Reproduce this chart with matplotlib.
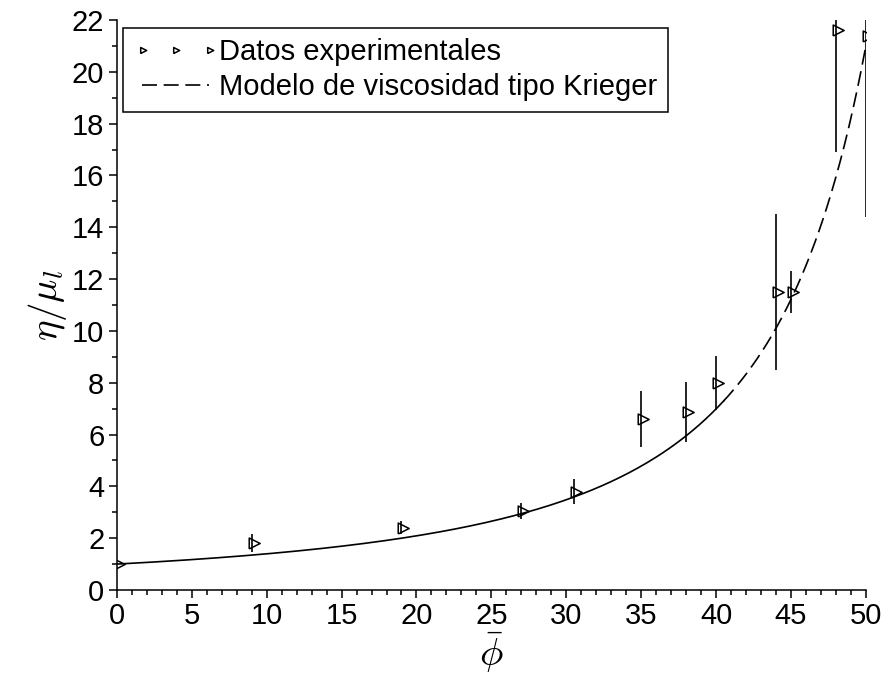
import numpy as np
import matplotlib
matplotlib.use("Agg")
import matplotlib.pyplot as plt
from matplotlib.ticker import MultipleLocator

phi = [0, 9, 19, 27, 30.5, 35, 38, 40, 44, 45, 48, 50]
visc = [1.0, 1.81, 2.4, 3.05, 3.8, 6.6, 6.87, 8.0, 11.5, 11.5, 21.6, 21.4]
err = [0.0, 0.35, 0.25, 0.3, 0.5, 1.08, 1.15, 1.05, 3.0, 0.8, 4.7, 7.0]

# Krieger model parameters (fitted by eye)
phi_max = 63.0
expo = 1.93
phi_split = 40.5

plt.rcParams['font.family'] = ['Liberation Sans', 'DejaVu Sans']
plt.rcParams['mathtext.fontset'] = 'cm'

# right-pointing triangle, anchored near its left side like the original
tri = [(-0.6, -1.0), (1.4, 0.0), (-0.6, 1.0), (-0.6, -1.0)]

fig = plt.figure(figsize=(8.85, 6.87), dpi=100)
ax = fig.add_axes([0.132, 0.1412, 0.8465, 0.8297])

x1 = np.linspace(0, phi_split, 200)
x2 = np.linspace(phi_split, 50, 200)
ax.plot(x1, (1 - x1 / phi_max) ** (-expo), color='black', lw=1.2)
line, = ax.plot(x2, (1 - x2 / phi_max) ** (-expo), color='black', lw=1.2,
                dashes=(9, 4))

ax.errorbar(phi, visc, yerr=err, fmt='none', ecolor='black', elinewidth=1.2,
            capsize=0)
pts, = ax.plot(phi, visc, linestyle='none', marker=tri, markersize=11,
               markerfacecolor='none', markeredgecolor='black', markeredgewidth=1.1)

ax.set_xlim(0, 50)
ax.set_ylim(0, 22)
ax.xaxis.set_major_locator(MultipleLocator(5))
ax.xaxis.set_minor_locator(MultipleLocator(1))
ax.yaxis.set_major_locator(MultipleLocator(2))
ax.yaxis.set_minor_locator(MultipleLocator(1))
ax.tick_params(which='major', direction='out', length=6, width=1.1, labelsize=21, pad=3)
ax.tick_params(which='minor', direction='out', length=3.5, width=1.1)
for s in ['top', 'right']:
    ax.spines[s].set_visible(False)
for s in ['left', 'bottom']:
    ax.spines[s].set_linewidth(1.1)

ax.set_xlabel(r'$\bar{\phi}$', fontsize=28, labelpad=0)
ax.set_ylabel(r'$\eta/\mu_l$', fontsize=28, labelpad=2)

leg = ax.legend([pts, line], ['Datos experimentales', 'Modelo de viscosidad tipo Krieger'],
                loc='upper left', bbox_to_anchor=(0.008, 0.986), fontsize=21,
                numpoints=3, handlelength=2.9, handletextpad=0.05, borderpad=0.35,
                labelspacing=0.25, fancybox=False, framealpha=1, borderaxespad=0)
leg.get_frame().set_edgecolor('black')
leg.get_frame().set_linewidth(1.1)
leg.legend_handles[0].set_markersize(6)

fig.savefig('out.png', dpi=100)
